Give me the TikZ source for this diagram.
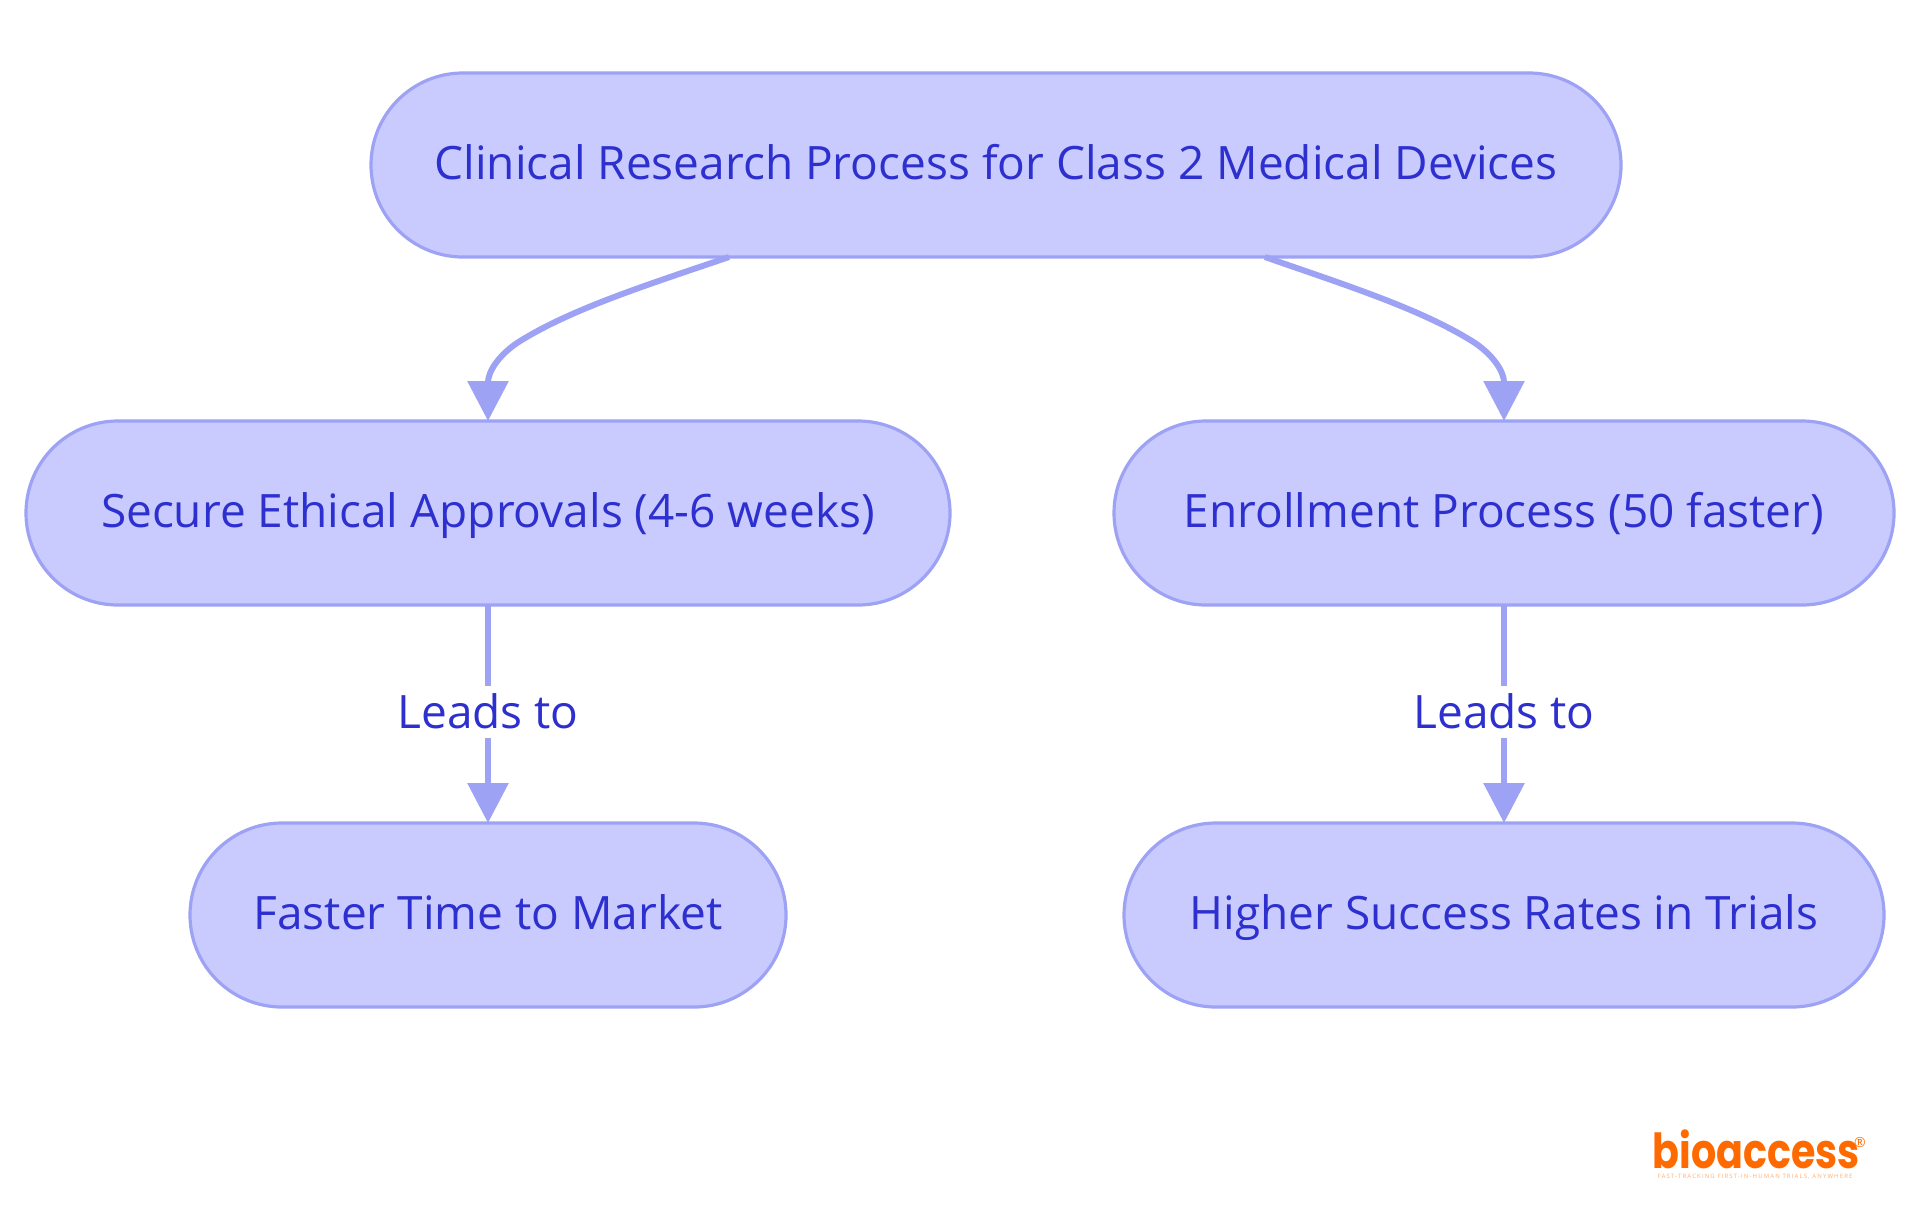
\documentclass[tikz,border=0pt]{standalone}
\usepackage{fontspec}
\usetikzlibrary{arrows.meta}
\setmainfont{Open Sans}
\newfontfamily\logofont{Poppins}
\definecolor{boxfill}{HTML}{C9CBFF}
\definecolor{boxline}{HTML}{9DA2F5}
\definecolor{boxtext}{HTML}{2D30CE}
\definecolor{logoorange}{HTML}{FF6A00}
\tikzset{
  stadium/.style={draw=boxline,fill=boxfill,line width=1.6pt,rounded corners=46pt,
    text=boxtext,font=\fontsize{23}{27}\selectfont,text height=18pt,text depth=4pt,
    minimum height=92pt,outer sep=0pt},
  link/.style={draw=boxline,line width=3pt,-{Triangle[length=20pt,width=20pt]}},
  linklabel/.style={fill=white,text=boxtext,font=\fontsize{23}{27}\selectfont,
    text height=20pt,text depth=3pt,inner sep=1.5pt}
}
\begin{document}
\begin{tikzpicture}[x=.5pt,y=-.5pt]
  \useasboundingbox (0,0) rectangle (1920,1215);

  \begin{scope}[every node/.style={stadium}]
    \node[minimum width=625pt] (research)  at (996,165)  {Clinical Research Process for Class 2 Medical Devices};
    \node[minimum width=462pt] (approvals) at (488,513)  {Secure Ethical Approvals (4-6 weeks)};
    \node[minimum width=390pt] (enroll)    at (1504,513) {Enrollment Process (50 faster)};
    \node[minimum width=298pt] (market)    at (488,915)  {Faster Time to Market};
    \node[minimum width=380pt] (success)   at (1504,915) {Higher Success Rates in Trials};
  \end{scope}

  \draw[link] (research.south) ++(-267,0) .. controls (650,284) and (570,309) .. (517,343)
    .. controls (498,356) and (488,372) .. (approvals.north);
  \draw[link] (research.south) ++(269,0) .. controls (1342,284) and (1422,309) .. (1475,343)
    .. controls (1494,356) and (1504,372) .. (enroll.north);

  \begin{scope}[every node/.style={linklabel}]
    \path (approvals) edge[link] node[pos=.49] {Leads to} (market);
    \path (enroll) edge[link] node[pos=.49] {Leads to} (success);
  \end{scope}

  % logo
  \node[text=logoorange,font=\logofont\bfseries\fontsize{19.8}{20}\selectfont,inner sep=0pt,anchor=base,yscale=1.22,transform shape] (logo) at (1756,1168) {bioaccess};
  \node[text=logoorange,font=\fontsize{7}{7}\selectfont,inner sep=0pt] (logomark) at (1860,1142) {®};
  \node[text=logoorange!55,font=\fontsize{3}{4}\selectfont\addfontfeature{LetterSpace=19},inner sep=0pt] (tagline) at (1755,1177) {FAST-TRACKING FIRST-IN-HUMAN TRIALS, ANYWHERE};
\end{tikzpicture}
\end{document}
